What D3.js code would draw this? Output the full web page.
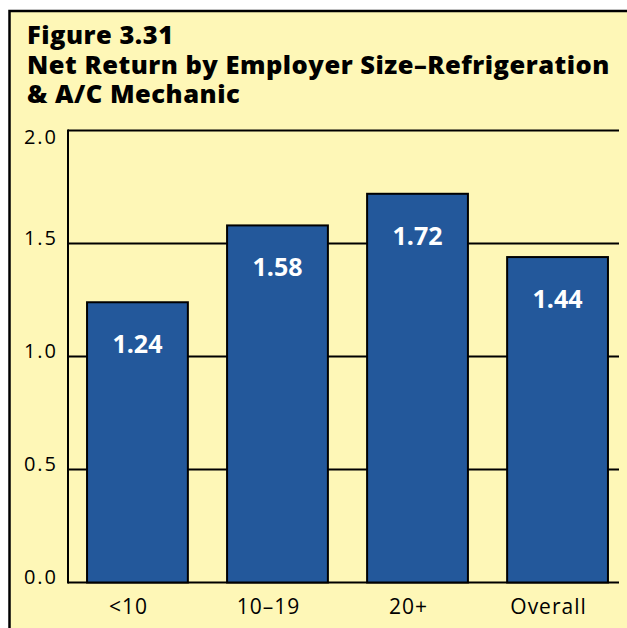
<!DOCTYPE html>
<html>
<head>
<meta charset="utf-8">
<script src="https://cdn.jsdelivr.net/npm/d3@7"></script>
<style>
  html, body { margin: 0; padding: 0; background: #fff; }
  svg { display: block; }
  text { font-family: "Open Sans", "Noto Sans", sans-serif; }
</style>
</head>
<body>
<svg id="chart"></svg>
<script>
// data
const categories = ['<10', '10–19', '20+', 'Overall'];
const values = [1.24, 1.58, 1.72, 1.44];
const yTicks = [0, 0.5, 1.0, 1.5, 2.0];
const titleLines = ['Figure 3.31', 'Net Return by Employer Size–Refrigeration', '& A/C Mechanic'];

const W = 627, H = 628;
const panelFill = '#fef7b7';
const barFill = '#23589b';

const svg = d3.select('#chart')
  .attr('width', W)
  .attr('height', H);

// yellow panel with black frame (right / bottom run off the page)
svg.append('rect')
  .attr('x', 9.5).attr('y', 11)
  .attr('width', W + 20).attr('height', H + 20)
  .style('fill', panelFill)
  .style('stroke', '#000')
  .style('stroke-width', 2.5);

// title
svg.append('g').attr('class', 'title')
  .selectAll('text')
  .data(titleLines)
  .join('text')
    .attr('x', 27)
    .attr('y', (d, i) => 44 + i * 29.5)
    .style('font-size', '25.5px')
    .style('font-weight', 800)
    .style('letter-spacing', '0.5px')
    .style('fill', '#000')
    .text(d => d);

const x = d3.scaleBand()
  .domain(categories)
  .range([68, 627])
  .paddingInner(0.28)
  .paddingOuter(0.136);

const y = d3.scaleLinear()
  .domain([0, 2])
  .range([582.5, 130.5]);

const xLeft = 68, xRight = 619;

const g = svg.append('g').attr('class', 'chart-group');

// gridlines (incl. top frame at 2.0 and baseline)
g.append('g').attr('class', 'grid')
  .selectAll('line')
  .data(yTicks)
  .join('line')
    .attr('x1', xLeft)
    .attr('x2', xRight)
    .attr('y1', d => y(d))
    .attr('y2', d => y(d))
    .style('stroke', '#000')
    .style('stroke-width', 2);

// y axis line
g.append('line')
  .attr('x1', xLeft).attr('x2', xLeft)
  .attr('y1', y(2) - 1).attr('y2', y(0) + 1)
  .style('stroke', '#000')
  .style('stroke-width', 2);

// y tick labels
g.append('g').attr('class', 'axis--y')
  .selectAll('text')
  .data(yTicks)
  .join('text')
    .attr('x', 58)
    .attr('y', d => y(d) + (d === 2 ? 13 : 1))
    .attr('text-anchor', 'end')
    .style('font-size', '20px')
    .style('letter-spacing', '2px')
    .style('fill', '#000')
    .text(d3.format('.1f'));

// bars
g.append('g').attr('class', 'bars')
  .selectAll('rect')
  .data(values)
  .join('rect')
    .attr('x', (d, i) => x(categories[i]))
    .attr('y', d => y(d))
    .attr('width', x.bandwidth())
    .attr('height', d => y(0) - y(d))
    .style('fill', barFill)
    .style('stroke', '#000')
    .style('stroke-width', 2);

// value labels inside bars
g.append('g').attr('class', 'labels')
  .selectAll('text')
  .data(values)
  .join('text')
    .attr('x', (d, i) => x(categories[i]) + x.bandwidth() / 2)
    .attr('y', d => y(d) + 51)
    .attr('text-anchor', 'middle')
    .style('font-size', '25px')
    .style('font-weight', 700)
    .style('fill', '#fff')
    .text(d => d.toFixed(2));

// category labels
g.append('g').attr('class', 'axis--x')
  .selectAll('text')
  .data(categories)
  .join('text')
    .attr('x', d => x(d) + x.bandwidth() / 2 - 9)
    .attr('y', 614)
    .attr('text-anchor', 'middle')
    .style('font-size', '21px')
    .style('letter-spacing', '1px')
    .style('fill', '#000')
    .text(d => d);
</script>
</body>
</html>
